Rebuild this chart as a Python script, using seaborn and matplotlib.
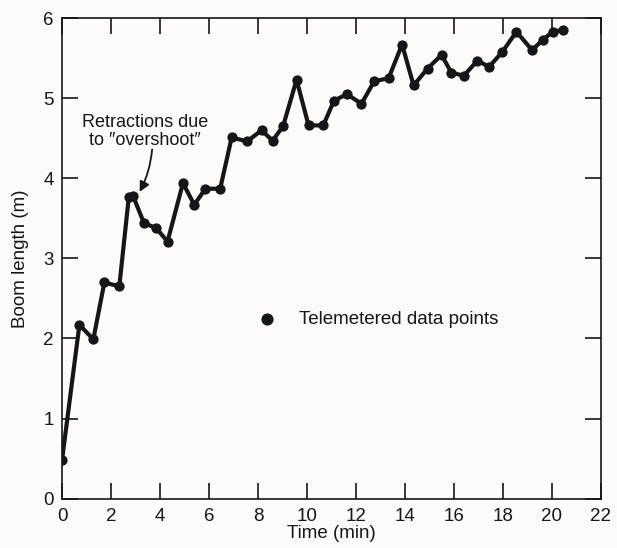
import matplotlib
matplotlib.use("Agg")
import matplotlib.pyplot as plt
import seaborn as sns
import pandas as pd

# Data
time_min = [0.0, 0.71, 1.28, 1.73, 2.34, 2.73, 2.90, 3.35, 3.84, 4.31,
            4.94, 5.40, 5.86, 6.46, 6.93, 7.56, 8.15, 8.60, 9.03, 9.58,
            10.07, 10.67, 11.11, 11.64, 12.23, 12.75, 13.34, 13.89, 14.36,
            14.93, 15.50, 15.90, 16.41, 16.97, 17.44, 17.99, 18.56, 19.20,
            19.64, 20.05, 20.46]
boom_length_m = [0.48, 2.17, 1.99, 2.70, 2.65, 3.77, 3.78, 3.44, 3.38, 3.21,
                 3.94, 3.67, 3.87, 3.87, 4.51, 4.46, 4.60, 4.47, 4.65, 5.23,
                 4.66, 4.66, 4.97, 5.05, 4.93, 5.21, 5.25, 5.67, 5.16,
                 5.37, 5.54, 5.32, 5.28, 5.47, 5.39, 5.58, 5.83, 5.60,
                 5.73, 5.83, 5.85]
x_ticks = [0, 2, 4, 6, 8, 10, 12, 14, 16, 18, 20, 22]
y_ticks = [0, 1, 2, 3, 4, 5, 6]

df = pd.DataFrame({"time": time_min, "length": boom_length_m})

sns.set_theme(style="ticks")
plt.rcParams["font.family"] = ["Liberation Sans", "DejaVu Sans"]

bg = "#fdfbf7"
ink = "#161616"
fig = plt.figure(figsize=(6.17, 5.48), dpi=100, facecolor=bg)
ax = fig.add_axes([0.1005, 0.09, 0.873, 0.877])
ax.set_facecolor(bg)

sns.lineplot(data=df, x="time", y="length", ax=ax, color=ink, linewidth=3.0,
             sort=False, estimator=None)
sns.scatterplot(data=df, x="time", y="length", ax=ax, color=ink, s=55,
                edgecolor=ink, linewidth=0, zorder=3)

ax.set_xlim(0, 22)
ax.set_ylim(0, 6)
ax.set_xticks(x_ticks)
ax.set_yticks(y_ticks)
ax.tick_params(direction="in", length=11.5, width=1.2, colors=ink,
               labelsize=13.5, top=True, right=True, labeltop=False,
               labelright=False)
ax.tick_params(axis="x", pad=7)
ax.tick_params(axis="y", pad=6)
for s in ax.spines.values():
    s.set_visible(True)
    s.set_linewidth(1.2)
    s.set_color(ink)

ax.set_xlabel("Time (min)", fontsize=13.5, color=ink, labelpad=0)
ax.set_ylabel("Boom length (m)", fontsize=13.5, color=ink, labelpad=10)

ax.text(3.4, 4.58, "Retractions due\nto \u2033overshoot\u2033",
        ha="center", va="center", fontsize=13, color=ink, linespacing=1.1)
ax.annotate("", xy=(3.17, 3.83), xytext=(3.68, 4.36),
            arrowprops=dict(arrowstyle="-|>", color=ink, lw=1.3,
                            connectionstyle="arc3,rad=-0.1",
                            shrinkA=0, shrinkB=0, mutation_scale=15))

ax.scatter([8.36], [2.24], s=60, color=ink, zorder=3)
ax.text(9.69, 2.24, "Telemetered data points", fontsize=13.5, color=ink,
        va="center", ha="left")

fig.savefig("out.png", dpi=100, facecolor=bg)
